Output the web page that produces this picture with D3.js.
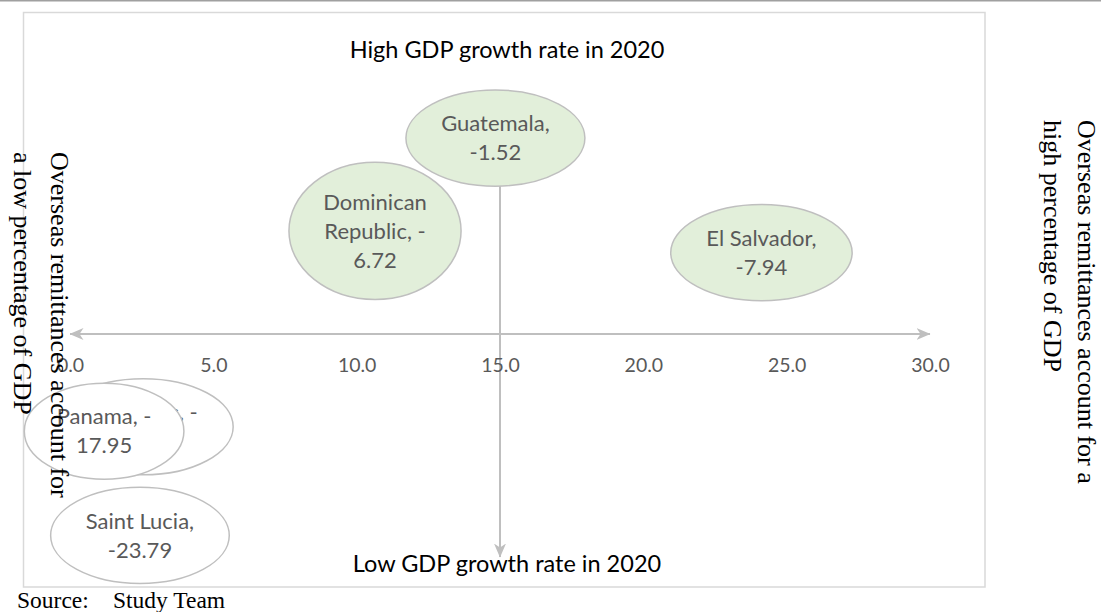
<!DOCTYPE html>
<html><head><meta charset="utf-8">
<script src="https://cdn.jsdelivr.net/npm/d3@7"></script>
<style>body{margin:0;background:#fff}svg{display:block}</style></head>
<body><svg id="c" width="1101" height="612"></svg>
<script>
// ---- data ----
const countries = ["Guatemala", "Dominican Republic", "El Salvador", "Barbados", "Panama", "Saint Lucia"];
// overseas remittances, % of GDP (x)
const remittancePct = [14.84, 10.64, 24.12, 2.55, 1.19, 2.44];
// GDP growth rate in 2020, % (y)  (Barbados label is hidden behind Panama; value estimated from position)
const gdpGrowth = [-1.52, -6.72, -7.94, -17.70, -17.95, -23.79];
const xTicks = [0, 5, 10, 15, 20, 25, 30];
const xDomain = [0, 30];
const yDomain = [-25, 0];
const crossAtY = -12.5;   // horizontal axis crosses here
const crossAtX = 15;      // vertical axis crosses here
const topTitle = "High GDP growth rate in 2020";
const bottomTitle = "Low GDP growth rate in 2020";
const leftText = ["Overseas remittances account for", "a low percentage of GDP"];
const rightText = ["Overseas remittances account for a", "high percentage of GDP"];
const sourceText = ["Source:", "Study Team"];

// ---- layout ----
const svg = d3.select("#c");
const x = d3.scaleLinear().domain(xDomain).range([70, 930]);
const y = d3.scaleLinear().domain(yDomain).range([557, 111]);
const AX = "#bfbfbf";
const SANS = "Lato, 'Open Sans', sans-serif";
const SERIF = "'Liberation Serif', 'DejaVu Serif', serif";

// page rule and frame
svg.append("line").attr("x1", 0).attr("x2", 1101).attr("y1", 0.75).attr("y2", 0.75)
  .attr("stroke", "#a0a0a0").attr("stroke-width", 1.5);
svg.append("rect").attr("x", 23.5).attr("y", 12.5).attr("width", 961.5).attr("height", 574.5)
  .attr("fill", "none").attr("stroke", "#d9d9d9").attr("stroke-width", 1.5);

// arrow marker
const defs = svg.append("defs");
defs.append("marker").attr("id", "arr").attr("viewBox", "0 0 14 12")
  .attr("refX", 13.5).attr("refY", 6).attr("markerWidth", 14).attr("markerHeight", 12)
  .attr("markerUnits", "userSpaceOnUse").attr("orient", "auto-start-reverse")
  .append("path").attr("d", "M0,0 L14,6 L0,12 L4,6 Z").attr("fill", AX);

// axes lines
svg.append("line").attr("x1", x(xDomain[0])).attr("x2", x(xDomain[1]))
  .attr("y1", y(crossAtY)).attr("y2", y(crossAtY))
  .attr("stroke", AX).attr("stroke-width", 2)
  .attr("marker-start", "url(#arr)").attr("marker-end", "url(#arr)");
svg.append("line").attr("x1", x(crossAtX)).attr("x2", x(crossAtX))
  .attr("y1", y(yDomain[1])).attr("y2", y(yDomain[0]))
  .attr("stroke", AX).attr("stroke-width", 2)
  .attr("marker-start", "url(#arr)").attr("marker-end", "url(#arr)");

// tick labels via d3 axis
const xAxis = d3.axisBottom(x).tickValues(xTicks).tickFormat(d3.format(".1f"))
  .tickSize(0).tickPadding(24);
const gx = svg.append("g").attr("transform", `translate(0,${y(crossAtY)})`).call(xAxis);
gx.select(".domain").remove();
gx.selectAll("text").attr("font-family", SANS).attr("font-size", 19.5).attr("fill", "#595959");

// data labels (ellipse callouts)
const FS = 22, LH = 29;
const meas = svg.append("text").attr("font-family", SANS).attr("font-size", FS).attr("visibility", "hidden");
function w(s) { meas.text(s); return meas.node().getComputedTextLength(); }
function wrap(str, maxW) {
  // break opportunities: after spaces and after hyphens
  const toks = str.match(/[^\s-]+-?|\s+|-/g);
  const lines = []; let cur = "";
  toks.forEach(t => {
    const test = cur + t;
    if (cur.trim() !== "" && w(test.trim()) > maxW && t.trim() !== "") {
      lines.push(cur.trim()); cur = t;
    } else cur = test;
  });
  if (cur.trim() !== "") lines.push(cur.trim());
  return lines;
}
const pts = countries.map((c, i) => {
  const lines = wrap(`${c}, ${gdpGrowth[i]}`, FS * 5.25);
  const mw = d3.max(lines, l => w(l));
  return { c, cx: x(remittancePct[i]), cy: y(gdpGrowth[i]), lines,
           rx: (mw / 2 + 9) * Math.SQRT2, ry: (lines.length * LH / 2 + 5) * Math.SQRT2,
           high: gdpGrowth[i] > crossAtY };
});
meas.remove();

const g = svg.selectAll("g.pt").data(pts).join("g").attr("class", "pt");
g.append("ellipse").attr("cx", d => d.cx).attr("cy", d => d.cy)
  .attr("rx", d => d.rx).attr("ry", d => d.ry)
  .attr("fill", d => d.high ? "#e2efda" : "#ffffff")
  .attr("stroke", "#bfbfbf").attr("stroke-width", 1.5);
g.append("text").attr("font-family", SANS).attr("font-size", FS).attr("fill", "#595959")
  .attr("text-anchor", "middle")
  .selectAll("tspan").data(d => d.lines.map((l, i) => ({ l, i, d }))).join("tspan")
  .attr("x", o => o.d.cx)
  .attr("y", o => o.d.cy + (o.i - (o.d.lines.length - 1) / 2) * LH + FS * 0.35)
  .text(o => o.l);

// quadrant titles
const midX = 507;
svg.append("text").attr("x", midX).attr("y", 58).attr("text-anchor", "middle")
  .attr("font-family", SANS).attr("font-size", 23.5).attr("fill", "#000").text(topTitle);
svg.append("text").attr("x", midX).attr("y", 572).attr("text-anchor", "middle")
  .attr("font-family", SANS).attr("font-size", 23.5).attr("fill", "#000").text(bottomTitle);

// rotated side texts
function sideText(tx, ty, lines, gap) {
  const t = svg.append("text").attr("transform", `translate(${tx},${ty}) rotate(90)`)
    .attr("font-family", SERIF).attr("font-size", 26).attr("fill", "#000");
  lines.forEach((l, i) => t.append("tspan").attr("x", 0).attr("y", i * gap).text(l));
}
sideText(51, 152, leftText, 37);
sideText(1078, 120, rightText, 34);

// source
const s = svg.append("text").attr("y", 608).attr("font-family", SERIF).attr("font-size", 23.5).attr("fill", "#000");
s.append("tspan").attr("x", 17).text(sourceText[0]);
s.append("tspan").attr("x", 113).text(sourceText[1]);
</script>
</body></html>
